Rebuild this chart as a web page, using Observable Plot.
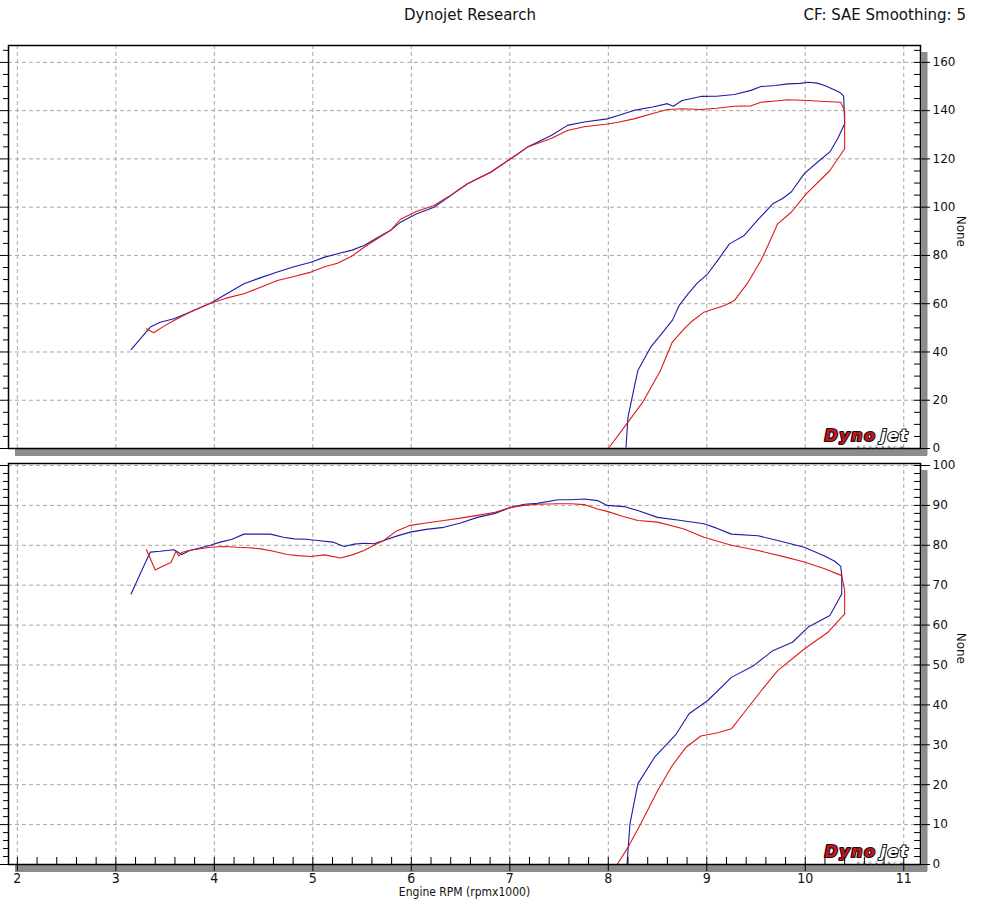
<!DOCTYPE html>
<html>
<head>
<meta charset="utf-8">
<script src="https://cdn.jsdelivr.net/npm/d3@7"></script>
<script src="https://cdn.jsdelivr.net/npm/@observablehq/plot@0.6"></script>
<style>
  html, body { margin: 0; padding: 0; background: #fff; }
  #wrap { position: relative; width: 981px; height: 920px; overflow: hidden; background: #fff; }
  #wrap svg { position: absolute; left: 0; }
  .hdr { position: absolute; top: 6px; font: 15px "DejaVu Sans", Verdana, sans-serif; color: #111; white-space: nowrap; z-index: 5; }
</style>
</head>
<body>
<div id="wrap">
  <div class="hdr" id="title" style="left:404px;">Dynojet Research</div>
  <div class="hdr" id="cf" style="right:15px;">CF: SAE Smoothing: 5</div>
</div>
<script>
// ---------- data (rpm x1000, value) ----------
const xTicks = [2, 3, 4, 5, 6, 7, 8, 9, 10, 11];
const topTicks = [0, 20, 40, 60, 80, 100, 120, 140, 160];
const bottomTicks = [0, 10, 20, 30, 40, 50, 60, 70, 80, 90, 100];

const topBlue = [[3.155,41],[3.25,45.5],[3.35,50.3],[3.45,52.3],[3.59,53.8],[3.75,56.5],[3.96,60.2],[4.10,63.5],[4.30,68.3],[4.45,70.5],[4.64,73.1],[4.80,75.2],[4.98,77.2],[5.12,79.3],[5.28,81],[5.40,82.2],[5.52,84.1],[5.65,87.2],[5.79,90.4],[5.89,93.8],[6.05,97.2],[6.23,100],[6.40,104.8],[6.57,109.7],[6.81,114.6],[7.01,120.1],[7.18,124.9],[7.42,129.7],[7.585,133.9],[7.755,135.3],[7.99,136.6],[8.10,138],[8.26,140.1],[8.45,141.5],[8.60,142.9],[8.66,141.8],[8.75,144.2],[8.94,145.9],[9.10,146],[9.28,146.7],[9.45,148.4],[9.55,150],[9.70,150.4],[9.82,151.1],[9.95,151.3],[10.03,151.8],[10.12,151.4],[10.19,150.5],[10.30,148.6],[10.36,147.3],[10.39,146],[10.40,134.6],[10.33,128.5],[10.25,122.9],[10.12,118.5],[9.99,113.9],[9.86,106.4],[9.77,103.6],[9.67,101.4],[9.52,94.8],[9.38,88.3],[9.23,84.8],[9.12,78.5],[9.01,72.4],[8.90,68.4],[8.81,64.1],[8.72,59.3],[8.65,53.1],[8.54,47.5],[8.43,42],[8.30,32.3],[8.25,22.7],[8.20,13],[8.18,0.5]];

const topRed = [[3.31,49.6],[3.385,48],[3.48,50.5],[3.59,53],[3.75,56.5],[3.96,60.2],[4.12,62.3],[4.30,64.1],[4.47,66.8],[4.64,69.6],[4.80,71.2],[4.98,73.1],[5.12,75.3],[5.25,76.8],[5.40,79.8],[5.52,83.4],[5.65,86.8],[5.79,90.4],[5.89,95],[6.05,98.2],[6.23,100.7],[6.40,105],[6.57,109.7],[6.81,114.6],[7.01,120.1],[7.18,124.9],[7.42,128.5],[7.585,131.8],[7.755,133.3],[7.99,134.5],[8.10,135.2],[8.26,136.6],[8.45,138.8],[8.60,140.5],[8.75,140.8],[8.94,140.5],[9.10,141],[9.28,141.8],[9.45,142],[9.55,143.5],[9.70,144],[9.82,144.5],[10.03,144.2],[10.20,143.8],[10.36,143.5],[10.40,140],[10.40,124.2],[10.25,115.2],[10.01,105.5],[9.86,98],[9.72,93.1],[9.62,84],[9.55,77.9],[9.41,68.3],[9.28,61.3],[9.18,59.3],[8.97,56.5],[8.84,52.4],[8.77,49.6],[8.65,44.1],[8.53,32.3],[8.35,19.2],[8.20,10.9],[8.01,0.5]];

const bottomBlue = [[3.155,67.8],[3.25,73],[3.35,78.3],[3.45,78.5],[3.59,78.9],[3.67,77.7],[3.75,78.7],[3.96,80],[4.06,80.8],[4.18,81.5],[4.30,82.8],[4.45,82.8],[4.57,82.8],[4.70,82],[4.81,81.6],[4.93,81.5],[5.05,81.2],[5.20,80.8],[5.32,79.7],[5.42,80.3],[5.52,80.5],[5.62,80.4],[5.72,81.2],[5.85,82.3],[5.99,83.3],[6.15,84],[6.33,84.5],[6.50,85.6],[6.67,87],[6.85,88],[7.01,89.5],[7.15,90.3],[7.28,90.5],[7.49,91.4],[7.62,91.4],[7.755,91.6],[7.89,91.2],[7.99,90],[8.16,89.7],[8.30,88.7],[8.50,87],[8.74,86.2],[8.97,85.4],[9.10,84.3],[9.25,82.8],[9.52,82.4],[9.72,81.2],[9.99,79.5],[10.19,77.4],[10.30,76],[10.36,74.7],[10.37,72.4],[10.37,67.8],[10.25,62.4],[10.03,59.5],[9.87,55.7],[9.67,53.6],[9.48,49.9],[9.25,46.9],[9.01,41.1],[8.82,37.8],[8.69,32.7],[8.47,26.9],[8.30,20.2],[8.22,10.2],[8.20,3.5],[8.19,0]];

const bottomRed = [[3.31,78.9],[3.40,73.8],[3.48,74.8],[3.56,75.7],[3.61,78.5],[3.64,77.3],[3.67,78.2],[3.74,78.7],[3.96,79.5],[4.10,79.7],[4.23,79.5],[4.35,79.4],[4.47,79.1],[4.60,78.5],[4.74,77.7],[4.85,77.4],[4.98,77.2],[5.12,77.6],[5.28,76.8],[5.40,77.6],[5.52,78.7],[5.62,80],[5.72,81.2],[5.85,83.6],[5.99,85],[6.15,85.6],[6.33,86.2],[6.50,86.8],[6.67,87.5],[6.85,88.3],[7.01,89.5],[7.15,90],[7.28,90.3],[7.49,90.4],[7.62,90.4],[7.755,90.2],[7.89,89.1],[7.99,88.5],[8.15,87.2],[8.30,86.2],[8.50,85.8],[8.77,84.1],[8.97,82],[9.25,80],[9.52,78.7],[9.79,77.1],[9.99,75.8],[10.19,74.2],[10.37,72.4],[10.40,68.7],[10.40,62.8],[10.23,58.2],[9.99,54],[9.72,48.6],[9.58,44.4],[9.38,38.1],[9.25,34],[9.11,33],[8.94,32.2],[8.79,29.4],[8.65,24.8],[8.50,18.5],[8.33,10.2],[8.20,4.3],[8.09,0]];

// ---------- styling ----------
const W = 981, ML = 8, MR = 61;
const FW = W - ML - MR; // frame width
const xDomain = [1.91, 11.17];
const BLUE = "#1c1ca8", RED = "#e01818";
const GRID = "#a8a8a8", SHADOW = "#8c8c8c";
const tickFont = "\"DejaVu Sans\", Verdana, sans-serif";
const condFont = "\"Liberation Sans Narrow\", \"DejaVu Sans Condensed\", sans-serif";
const logoFont = "\"DejaVu Sans\", sans-serif";

function range(a, b, s) { const r = []; for (let v = a; v <= b + 1e-9; v += s) r.push(+v.toFixed(3)); return r; }

function panel({height, mt, mb, yMax, majors, minorStep, blue, red, xAxis}) {
  const FH = height - mt - mb;
  const minors = range(0, yMax, minorStep).filter(v => !majors.includes(v));
  const xMinors = range(2, 11, 0.2).filter(v => Math.abs(v - Math.round(v)) > 1e-6);
  const marks = [
    Plot.ruleX([xDomain[1]], {stroke: SHADOW, strokeWidth: 6, dx: 4, insetTop: 7, insetBottom: -7}),
    Plot.ruleY([0], {stroke: SHADOW, strokeWidth: 7, dy: 4, insetLeft: 7, insetRight: -7}),
    Plot.ruleX(xTicks, {stroke: GRID, strokeDasharray: "4,3", strokeWidth: 1}),
    Plot.ruleY(majors.filter(v => v > 0), {stroke: GRID, strokeDasharray: "4,3", strokeWidth: 1}),
    Plot.line(blue, {x: d => d[0], y: d => d[1], stroke: BLUE, strokeWidth: 1.1, curve: "linear"}),
    Plot.line(red, {x: d => d[0], y: d => d[1], stroke: RED, strokeWidth: 1.1, curve: "linear"}),
    Plot.frame({stroke: "#000", strokeWidth: 1.5}),
    Plot.ruleY(majors, {stroke: "#000", insetLeft: FW - 6, insetRight: -10}),
    Plot.ruleY(minors, {stroke: "#000", insetLeft: FW - 6, insetRight: 0}),
    Plot.ruleY(majors, {stroke: "#000", insetLeft: -8, insetRight: FW}),
    Plot.ruleY(minors, {stroke: "#000", insetLeft: -5, insetRight: FW}),
    Plot.axisY({anchor: "right", ticks: majors, tickSize: 0, tickPadding: 12, label: null,
      fontSize: 12, fontFamily: tickFont, fill: "#111"}),
    Plot.text(["None"], {frameAnchor: "right", dx: 40, rotate: 90, fontSize: 12,
      fontFamily: tickFont, fill: "#111"}),
    // Dynojet logo (text)
    Plot.text(["Dyno"], {frameAnchor: "bottom-right", dx: -44, dy: -8, textAnchor: "end",
      lineAnchor: "bottom", fontSize: 16, fontWeight: "bold", fontStyle: "italic",
      fontFamily: logoFont, fill: "#c8141e", stroke: "#111", strokeWidth: 2.2, paintOrder: "stroke"}),
    Plot.text(["jet"], {frameAnchor: "bottom-right", dx: -40, dy: -8, textAnchor: "start",
      lineAnchor: "bottom", fontSize: 16, fontWeight: "bold", fontStyle: "italic",
      fontFamily: logoFont, fill: "#ffffff", stroke: "#111", strokeWidth: 2.2, paintOrder: "stroke"}),
    Plot.text(["RESEARCH"], {frameAnchor: "bottom-right", dx: -14, dy: 0, textAnchor: "end",
      lineAnchor: "bottom", fontSize: 4.5, fontFamily: logoFont, fill: "#333"})
  ];
  if (xAxis) {
    marks.push(
      Plot.ruleX(xTicks, {stroke: "#000", insetTop: FH - 7, insetBottom: -7}),
      Plot.ruleX(xMinors, {stroke: "#000", insetTop: FH - 7, insetBottom: 0}),
      Plot.axisX({anchor: "bottom", ticks: xTicks, tickSize: 0, tickPadding: 9, label: null,
        fontSize: 14, fontFamily: condFont, fill: "#111"}),
      Plot.text(["Engine RPM (rpmx1000)"], {frameAnchor: "bottom", dy: 31, fontSize: 12,
        fontFamily: condFont, fill: "#111"})
    );
  }
  const svg = Plot.plot({
    width: W, height,
    marginLeft: ML, marginRight: MR, marginTop: mt, marginBottom: mb,
    style: {background: "transparent", overflow: "visible"},
    x: {domain: xDomain, axis: xAxis ? undefined : null},
    y: {domain: [0, yMax]},
    marks
  });
  // letter spacing for the logo texts
  svg.querySelectorAll("text").forEach(t => {
    const s = t.textContent;
    if (s === "Dyno" || s === "jet") t.setAttribute("letter-spacing", "1.5");
    if (s === "RESEARCH") t.setAttribute("letter-spacing", "3.2");
  });
  return svg;
}

const wrap = document.getElementById("wrap");
const topPanel = panel({height: 456, mt: 45, mb: 8, yMax: 167, majors: topTicks, minorStep: 5, blue: topBlue, red: topRed, xAxis: false});
topPanel.style.top = "0px";
const bottomPanel = panel({height: 464, mt: 7, mb: 56, yMax: 100.5, majors: bottomTicks, minorStep: 2, blue: bottomBlue, red: bottomRed, xAxis: true});
bottomPanel.style.top = "456px";
wrap.appendChild(topPanel);
wrap.appendChild(bottomPanel);
</script>
</body>
</html>
